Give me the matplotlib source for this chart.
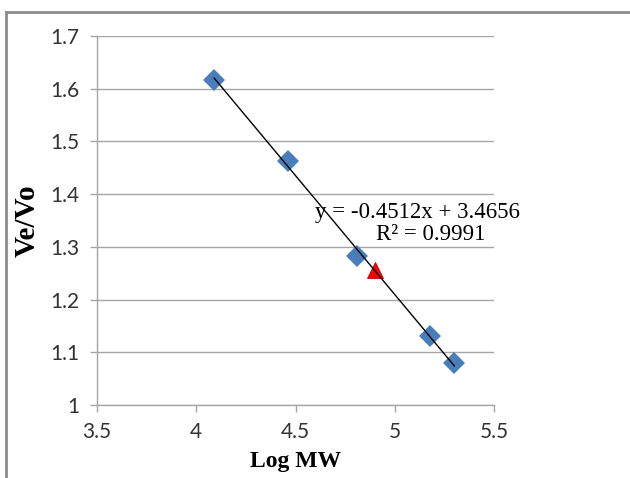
import matplotlib
matplotlib.use("Agg")
import matplotlib.pyplot as plt
from matplotlib.lines import Line2D
import numpy as np

# Data
log_mw = [4.09, 4.46, 4.81, 5.18, 5.30]
ve_vo = [1.616, 1.463, 1.283, 1.130, 1.080]
unknown_x = [4.90]
unknown_y = [1.256]
slope = -0.4512
intercept = 3.4656
r2 = 0.9991
x_ticks = [3.5, 4, 4.5, 5, 5.5]
x_tick_labels = ["3.5", "4", "4.5", "5", "5.5"]
y_ticks = [1.0, 1.1, 1.2, 1.3, 1.4, 1.5, 1.6, 1.7]
y_tick_labels = ["1", "1.1", "1.2", "1.3", "1.4", "1.5", "1.6", "1.7"]

fig = plt.figure(figsize=(6.3, 4.78), dpi=100)
ax = fig.add_axes([97/630, 1-405/478, (494-97)/630, (405-36)/478])

grid_c = "#A6A6A6"
for y in y_ticks:
    ax.axhline(y, color=grid_c, lw=1.0, zorder=0)

ax.plot(log_mw, ve_vo, linestyle="none", marker="D", markersize=11,
        color="#4A7EBB", markeredgewidth=0, zorder=2)
ax.plot(unknown_x, unknown_y, linestyle="none", marker="^", markersize=11,
        color="#FF0000", markeredgecolor="#C00000", markeredgewidth=0.6, zorder=3)

xs = np.array([min(log_mw), max(log_mw)])
ax.plot(xs, slope*xs + intercept, color="black", lw=1.0, zorder=4)

ax.set_xlim(3.5, 5.5)
ax.set_ylim(1.0, 1.7)
ax.set_xticks(x_ticks)
ax.set_xticklabels(x_tick_labels)
ax.set_yticks(y_ticks)
ax.set_yticklabels(y_tick_labels)
for s in ["top", "right"]:
    ax.spines[s].set_visible(False)
for s in ["left", "bottom"]:
    ax.spines[s].set_color(grid_c)
    ax.spines[s].set_linewidth(1.0)
ax.tick_params(axis="both", direction="out", length=5, color=grid_c, width=1.0,
               labelsize=15, labelcolor="#333333")
for lab in ax.get_xticklabels() + ax.get_yticklabels():
    lab.set_family("Lato")
ax.tick_params(axis="x", pad=7)
ax.tick_params(axis="y", pad=8)

ax.set_xlabel("Log MW", family="Liberation Serif", fontweight="bold", fontsize=17, labelpad=0)
ax.xaxis.set_label_coords(0.5, -(462-405)/369, transform=ax.transAxes)
ax.xaxis.label.set_va("center")
ax.set_ylabel("Ve/Vo", family="Liberation Serif", fontweight="bold", fontsize=21)
ax.yaxis.set_label_coords(-(97-27)/397, 0.5, transform=ax.transAxes)
ax.yaxis.label.set_va("center")

ax.text(5.631, 1.366, f"y = {slope}x + {intercept}", family="Liberation Serif",
        fontsize=16.5, ha="right", va="center")
ax.text(5.455, 1.324, f"R² = {r2}", family="Liberation Serif",
        fontsize=16.5, ha="right", va="center")

# outer frame (partially cropped)
fig.add_artist(Line2D([6/630, 6/630], [0, 1-12/478], transform=fig.transFigure,
                      color="#8C8C8C", lw=2))
fig.add_artist(Line2D([6/630, 1], [1-12/478, 1-12/478], transform=fig.transFigure,
                      color="#8C8C8C", lw=2))

fig.savefig("out.png", dpi=100)
